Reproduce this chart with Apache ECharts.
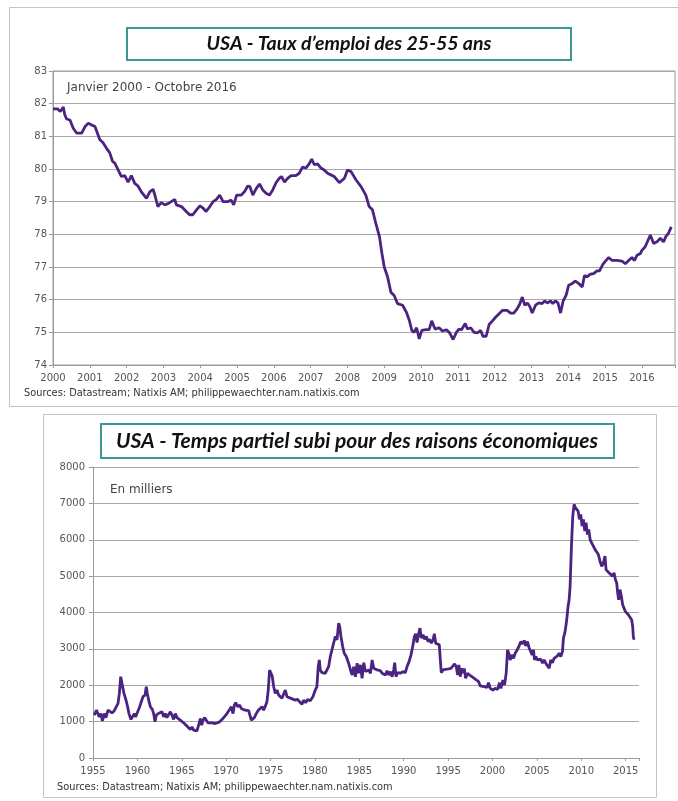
<!DOCTYPE html>
<html>
<head>
<meta charset="utf-8">
<script src="https://cdn.jsdelivr.net/npm/echarts@6/dist/echarts.min.js"></script>
<style>
html,body{margin:0;padding:0;background:#fff;}
#c{width:678px;height:801px;}
</style>
</head>
<body>
<div id="c"></div>
<script>
// ---- Chart 1 : taux d'emploi des 25-55 ans (decimal year, %) ----
const empYears = [2000.00,2000.12,2000.20,2000.28,2000.32,2000.37,2000.46,2000.55,2000.64,2000.78,2000.87,2000.96,2001.05,2001.14,2001.18,2001.27,2001.36,2001.45,2001.54,2001.62,2001.68,2001.77,2001.86,2001.95,2002.04,2002.13,2002.22,2002.31,2002.40,2002.54,2002.63,2002.72,2002.78,2002.85,2002.94,2003.04,2003.17,2003.31,2003.35,2003.49,2003.62,2003.71,2003.80,2003.90,2003.99,2004.08,2004.16,2004.26,2004.35,2004.44,2004.53,2004.62,2004.75,2004.84,2004.91,2004.99,2005.11,2005.20,2005.29,2005.35,2005.43,2005.52,2005.61,2005.70,2005.79,2005.88,2005.97,2006.06,2006.15,2006.21,2006.29,2006.38,2006.47,2006.60,2006.69,2006.78,2006.87,2006.96,2007.03,2007.10,2007.19,2007.28,2007.37,2007.46,2007.55,2007.64,2007.78,2007.92,2008.00,2008.10,2008.23,2008.37,2008.50,2008.59,2008.68,2008.77,2008.87,2008.94,2009.00,2009.09,2009.18,2009.27,2009.36,2009.50,2009.60,2009.68,2009.75,2009.81,2009.88,2009.95,2010.02,2010.13,2010.22,2010.29,2010.38,2010.49,2010.58,2010.69,2010.78,2010.87,2010.96,2011.03,2011.10,2011.20,2011.26,2011.35,2011.44,2011.53,2011.62,2011.68,2011.77,2011.85,2011.94,2012.03,2012.12,2012.21,2012.34,2012.43,2012.52,2012.61,2012.68,2012.75,2012.82,2012.89,2012.96,2013.02,2013.11,2013.20,2013.29,2013.36,2013.43,2013.52,2013.58,2013.65,2013.72,2013.79,2013.86,2013.94,2014.01,2014.10,2014.19,2014.29,2014.38,2014.44,2014.51,2014.60,2014.69,2014.78,2014.85,2014.94,2015.01,2015.10,2015.19,2015.32,2015.46,2015.55,2015.64,2015.73,2015.80,2015.87,2015.96,2016.00,2016.09,2016.23,2016.32,2016.41,2016.50,2016.59,2016.65,2016.72,2016.80];
const empRates = [81.84,81.84,81.76,81.90,81.66,81.53,81.50,81.25,81.10,81.10,81.30,81.40,81.35,81.30,81.25,80.90,80.80,80.64,80.50,80.23,80.18,79.97,79.77,79.80,79.60,79.80,79.56,79.48,79.30,79.10,79.30,79.38,79.15,78.85,78.97,78.90,78.97,79.07,78.90,78.85,78.70,78.60,78.60,78.75,78.87,78.80,78.70,78.85,79.00,79.07,79.20,79.00,79.00,79.05,78.90,79.20,79.20,79.30,79.48,79.46,79.20,79.40,79.54,79.36,79.26,79.20,79.36,79.58,79.72,79.77,79.60,79.72,79.80,79.80,79.87,80.06,80.03,80.16,80.30,80.13,80.16,80.03,79.97,79.87,79.82,79.77,79.58,79.72,79.97,79.92,79.67,79.46,79.20,78.85,78.75,78.34,77.93,77.40,77.00,76.70,76.23,76.13,75.88,75.83,75.62,75.37,75.06,75.00,75.14,74.80,75.06,75.08,75.08,75.35,75.10,75.14,75.04,75.08,74.98,74.78,75.00,75.10,75.08,75.27,75.10,75.14,75.00,74.98,75.06,74.88,74.88,75.24,75.35,75.47,75.57,75.67,75.67,75.59,75.59,75.72,75.86,76.08,75.83,75.90,75.78,75.59,75.83,75.90,75.88,75.96,75.90,75.96,75.88,75.96,75.90,75.59,75.96,76.13,76.44,76.49,76.57,76.49,76.39,76.74,76.70,76.78,76.80,76.88,76.88,77.08,77.18,77.29,77.20,77.20,77.18,77.10,77.20,77.29,77.20,77.36,77.41,77.51,77.62,77.98,77.72,77.77,77.88,77.77,77.93,78.03,78.23];
const empYTicks = [74,75,76,77,78,79,80,81,82,83];

// ---- Chart 2 : temps partiel subi (decimal year, milliers) ----
const ptYears = [1955.15,1955.38,1955.53,1955.71,1955.90,1956.05,1956.28,1956.46,1956.69,1956.88,1957.14,1957.40,1957.63,1957.82,1957.97,1958.12,1958.23,1958.34,1958.49,1958.60,1958.72,1958.90,1959.05,1959.28,1959.43,1959.65,1959.80,1960.03,1960.26,1960.44,1960.63,1960.86,1961.00,1961.12,1961.27,1961.46,1961.68,1961.83,1961.98,1962.13,1962.36,1962.58,1962.77,1962.96,1963.15,1963.33,1963.52,1963.71,1963.90,1964.08,1964.27,1964.46,1964.65,1964.83,1965.02,1965.29,1965.51,1965.74,1965.96,1966.15,1966.34,1966.56,1966.71,1966.94,1967.09,1967.24,1967.39,1967.58,1967.76,1967.95,1968.14,1968.40,1968.66,1968.96,1969.26,1969.53,1969.79,1970.09,1970.39,1970.58,1970.77,1970.92,1971.07,1971.29,1971.52,1971.70,1971.89,1972.12,1972.34,1972.53,1972.72,1972.83,1972.98,1973.17,1973.39,1973.62,1973.84,1974.03,1974.22,1974.41,1974.59,1974.74,1974.89,1975.05,1975.20,1975.35,1975.53,1975.72,1975.91,1976.10,1976.28,1976.47,1976.66,1976.85,1977.07,1977.30,1977.52,1977.79,1978.05,1978.27,1978.54,1978.72,1978.95,1979.17,1979.47,1979.77,1980.04,1980.22,1980.37,1980.49,1980.60,1980.79,1980.98,1981.16,1981.35,1981.54,1981.73,1981.91,1982.10,1982.29,1982.48,1982.67,1982.78,1982.93,1983.12,1983.30,1983.53,1983.79,1984.00,1984.19,1984.37,1984.56,1984.75,1984.94,1985.12,1985.31,1985.50,1985.69,1985.87,1986.06,1986.25,1986.44,1986.62,1986.81,1987.00,1987.19,1987.37,1987.56,1987.75,1987.94,1988.12,1988.31,1988.50,1988.69,1988.87,1988.98,1989.13,1989.32,1989.62,1989.92,1990.18,1990.37,1990.60,1990.82,1991.01,1991.20,1991.35,1991.50,1991.68,1991.83,1991.98,1992.17,1992.36,1992.55,1992.73,1992.92,1993.11,1993.30,1993.45,1993.60,1993.82,1994.01,1994.12,1994.23,1994.42,1994.64,1994.87,1995.09,1995.32,1995.54,1995.73,1995.92,1996.07,1996.22,1996.37,1996.52,1996.67,1996.82,1996.97,1997.19,1997.42,1997.68,1997.94,1998.17,1998.43,1998.62,1998.80,1999.07,1999.37,1999.55,1999.74,2000.04,2000.30,2000.57,2000.79,2000.94,2001.17,2001.35,2001.54,2001.69,2001.84,2001.99,2002.18,2002.37,2002.55,2002.74,2002.97,2003.19,2003.38,2003.57,2003.75,2003.94,2004.13,2004.31,2004.46,2004.61,2004.73,2004.88,2005.06,2005.25,2005.44,2005.63,2005.81,2006.00,2006.19,2006.38,2006.56,2006.75,2006.94,2007.13,2007.31,2007.50,2007.69,2007.88,2007.99,2008.18,2008.36,2008.51,2008.63,2008.74,2008.89,2009.04,2009.19,2009.34,2009.49,2009.64,2009.79,2009.94,2010.09,2010.24,2010.39,2010.54,2010.69,2010.84,2010.99,2011.17,2011.36,2011.55,2011.74,2011.92,2012.11,2012.30,2012.49,2012.67,2012.79,2012.94,2013.12,2013.31,2013.50,2013.69,2013.84,2013.99,2014.10,2014.21,2014.36,2014.51,2014.66,2014.81,2014.96,2015.11,2015.30,2015.49,2015.67,2015.79,2015.86,2015.94];
const ptValues = [1178,1315,1360,1130,1220,1020,1220,1110,1315,1335,1240,1300,1410,1500,1775,2235,2280,1960,1775,1820,1590,1410,1220,1060,1130,1220,1130,1270,1410,1545,1685,1730,1960,1775,1590,1410,1335,1220,994,1178,1220,1178,1270,1130,1220,1110,1130,1270,1178,1060,1220,1110,1085,1040,1020,948,900,837,782,855,763,810,745,948,1085,900,1040,1110,1040,966,948,966,948,966,994,1060,1130,1220,1335,1410,1220,1455,1520,1410,1455,1360,1410,1315,1335,1300,1270,1040,1020,1110,1220,1315,1270,1410,1315,1425,1545,1868,2420,2330,2235,1960,1775,1868,1730,1775,1640,1685,1868,1685,1730,1640,1685,1590,1610,1545,1480,1590,1520,1610,1575,1685,1868,1960,2510,2695,2420,2345,2375,2330,2375,2510,2790,2970,3155,3340,3250,3710,3615,3340,3065,2880,2790,2605,2420,2280,2510,2235,2605,2330,2560,2190,2620,2375,2330,2420,2330,2695,2465,2490,2420,2375,2400,2330,2375,2280,2400,2280,2375,2235,2420,2620,2235,2345,2330,2375,2345,2510,2650,2835,3065,3340,3415,3175,3415,3570,3295,3385,3265,3340,3200,3265,3155,3250,3415,3155,3200,3110,2695,2345,2420,2375,2440,2400,2465,2420,2585,2510,2280,2560,2235,2465,2330,2465,2190,2330,2280,2235,2190,2145,2100,1980,2005,1960,1940,2070,1915,1868,1915,1885,2070,1915,2145,2005,2330,2970,2880,2695,2835,2740,2880,2955,3065,3200,3135,3230,3080,3200,3020,2925,2835,2970,2695,2790,2695,2650,2715,2605,2695,2605,2650,2465,2695,2620,2740,2695,2805,2880,2790,2925,3295,3480,3800,4170,4350,4720,5825,6650,6975,6880,6930,6790,6560,6700,6375,6560,6240,6470,6145,6285,6010,5915,5825,5730,5780,5595,5410,5270,5365,5550,5180,5135,5090,5110,5000,5090,4905,4810,4535,4350,4630,4445,4215,4170,4030,3985,3940,3890,3800,3615,3340,3250];
const ptYTicks = [0,1000,2000,3000,4000,5000,6000,7000,8000];

const LINE = '#4b2380';
const GRID = '#a8a8a8';
const AXIS = '#9a9a9a';
const LBL = '#555';
const FONT = '"DejaVu Sans", Verdana, sans-serif';

function zip(a, b) { return a.map((x, i) => [x, b[i]]); }

const chart = echarts.init(document.getElementById('c'), null, {renderer: 'canvas'});

const option = {
  animation: false,
  backgroundColor: '#fff',
  grid: [
    {left: 53, top: 71, width: 624, height: 294, show: true, borderColor: AXIS, borderWidth: 1, backgroundColor: 'transparent'},
    {left: 93, top: 467, width: 546, height: 291, show: true, borderColor: AXIS, borderWidth: 1, backgroundColor: 'transparent'}
  ],
  xAxis: [
    {
      gridIndex: 0, type: 'value', min: 2000, max: 2016.9, interval: 1,
      axisLine: {lineStyle: {color: AXIS}},
      axisTick: {show: true, length: 3, lineStyle: {color: AXIS}},
      splitLine: {show: false},
      axisLabel: {color: LBL, fontFamily: FONT, fontSize: 10, margin: 8,
        formatter: v => (Math.abs(v - Math.round(v)) < 1e-6 && v <= 2016) ? String(Math.round(v)) : ''}
    },
    {
      gridIndex: 1, type: 'value', min: 1955, max: 2016.5, interval: 5,
      axisLine: {lineStyle: {color: AXIS}},
      axisTick: {show: true, length: 3, lineStyle: {color: AXIS}},
      splitLine: {show: false},
      axisLabel: {color: LBL, fontFamily: FONT, fontSize: 10, margin: 8,
        formatter: v => (Math.abs(v % 5) < 1e-6 && v <= 2015) ? String(Math.round(v)) : ''}
    }
  ],
  yAxis: [
    {
      gridIndex: 0, type: 'value', min: empYTicks[0], max: empYTicks[empYTicks.length - 1], interval: 1,
      axisLine: {show: true, lineStyle: {color: AXIS}},
      axisTick: {show: true, length: 4, lineStyle: {color: AXIS}},
      splitLine: {show: true, lineStyle: {color: GRID, width: 1}},
      axisLabel: {color: LBL, fontFamily: FONT, fontSize: 10, margin: 6, formatter: v => String(v)}
    },
    {
      gridIndex: 1, type: 'value', min: ptYTicks[0], max: ptYTicks[ptYTicks.length - 1], interval: 1000,
      axisLine: {show: true, lineStyle: {color: AXIS}},
      axisTick: {show: true, length: 4, lineStyle: {color: AXIS}},
      splitLine: {show: true, lineStyle: {color: GRID, width: 1}},
      axisLabel: {color: LBL, fontFamily: FONT, fontSize: 10, margin: 8, formatter: v => String(v)}
    }
  ],
  series: [
    {type: 'line', xAxisIndex: 0, yAxisIndex: 0, data: zip(empYears, empRates),
      showSymbol: false, symbol: 'none', lineStyle: {color: LINE, width: 2.8}, z: 5},
    {type: 'line', xAxisIndex: 1, yAxisIndex: 1, data: zip(ptYears, ptValues),
      showSymbol: false, symbol: 'none', lineStyle: {color: LINE, width: 2.8}, z: 5}
  ],
  graphic: [
    // outer frames
    {type: 'rect', shape: {x: 9.5, y: 7.5, width: 680, height: 399}, style: {fill: 'none', stroke: '#c4c4c4', lineWidth: 1}, z: 0},
    {type: 'rect', shape: {x: 43.5, y: 414.5, width: 613, height: 383}, style: {fill: '#fff', stroke: '#c4c4c4', lineWidth: 1}, z: 0},
    // title boxes
    {type: 'rect', shape: {x: 127, y: 28, width: 444, height: 32}, style: {fill: '#fff', stroke: '#3f9696', lineWidth: 2}, z: 10},
    {type: 'text', x: 349, y: 44, style: {text: 'USA - Taux d\u2019emploi des 25-55 ans', fill: '#111', font: 'italic bold 19.5px Lato, "Open Sans", sans-serif', textAlign: 'center', textVerticalAlign: 'middle'}, z: 11},
    {type: 'rect', shape: {x: 101, y: 424, width: 513, height: 34}, style: {fill: '#fff', stroke: '#3f9696', lineWidth: 2}, z: 10},
    {type: 'text', x: 357, y: 441, style: {text: 'USA - Temps partiel subi pour des raisons \u00e9conomiques', fill: '#111', font: 'italic bold 21px Lato, "Open Sans", sans-serif', textAlign: 'center', textVerticalAlign: 'middle'}, z: 11},
    // annotations
    {type: 'text', x: 67, y: 88, style: {text: 'Janvier 2000 - Octobre 2016', fill: '#444', font: '12px "DejaVu Sans", Verdana, sans-serif', textVerticalAlign: 'middle'}, z: 11},
    {type: 'text', x: 110, y: 490, style: {text: 'En milliers', fill: '#444', font: '12px "DejaVu Sans", Verdana, sans-serif', textVerticalAlign: 'middle'}, z: 11},
    {type: 'text', x: 24, y: 393, style: {text: 'Sources: Datastream; Natixis AM; philippewaechter.nam.natixis.com', fill: '#333', font: '9.8px "DejaVu Sans", Verdana, sans-serif', textVerticalAlign: 'middle'}, z: 11},
    {type: 'text', x: 57, y: 787, style: {text: 'Sources: Datastream; Natixis AM; philippewaechter.nam.natixis.com', fill: '#333', font: '9.8px "DejaVu Sans", Verdana, sans-serif', textVerticalAlign: 'middle'}, z: 11}
  ]
};
chart.setOption(option);
</script>
</body>
</html>
